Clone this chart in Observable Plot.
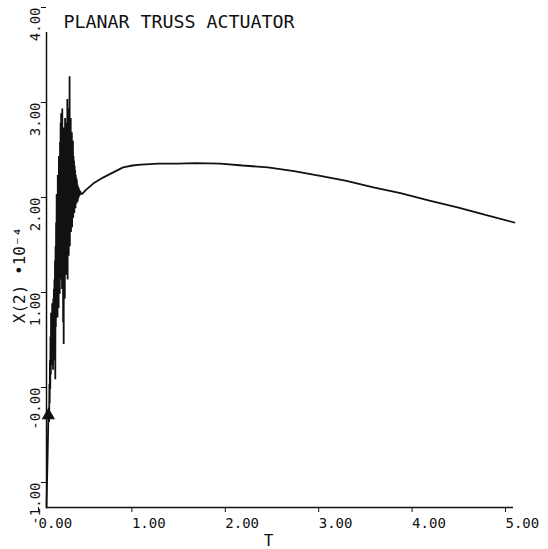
<!DOCTYPE html>
<html>
<head>
<meta charset="utf-8">
<script src="https://cdn.jsdelivr.net/npm/d3@7"></script>
<script src="https://cdn.jsdelivr.net/npm/@observablehq/plot@0.6"></script>
<style>
  html, body { margin: 0; padding: 0; background: #fff; }
</style>
</head>
<body>
<div id="chart"></div>
<script>
const titleText = ["PLANAR TRUSS ACTUATOR"];
const xLabelText = ["T"];
const yLabelText = ["X(2) •10⁻⁴"];

const xTicks = [0, 1, 2, 3, 4, 5];
const xTickLabels = ["0.00", "1.00", "2.00", "3.00", "4.00", "5.00"];
const yTicks = [-1, 0, 1, 2, 3, 4];
const yTickLabels = ["-1.00", "-0.00", "1.00", "2.00", "3.00", "4.00"];

// Early oscillating response
const tOsc = [0.000, 0.010, 0.020, 0.025, 0.028, 0.031, 0.034, 0.037, 0.040, 0.043, 0.046, 0.049, 0.052, 0.055, 0.058, 0.061, 0.064, 0.067, 0.070, 0.073, 0.076, 0.079, 0.082, 0.085, 0.088, 0.091, 0.094, 0.097, 0.100, 0.103, 0.106, 0.109, 0.112, 0.115, 0.118, 0.121, 0.124, 0.127, 0.130, 0.133, 0.136, 0.139, 0.142, 0.145, 0.148, 0.151, 0.154, 0.157, 0.160, 0.163, 0.166, 0.169, 0.172, 0.175, 0.178, 0.181, 0.184, 0.187, 0.190, 0.193, 0.196, 0.199, 0.202, 0.205, 0.208, 0.211, 0.214, 0.217, 0.220, 0.223, 0.226, 0.229, 0.232, 0.235, 0.238, 0.241, 0.244, 0.247, 0.250, 0.253, 0.256, 0.259, 0.262, 0.265, 0.268, 0.271, 0.274, 0.277, 0.280, 0.283, 0.286, 0.289, 0.292, 0.295, 0.298, 0.301, 0.304, 0.307, 0.310, 0.313, 0.316, 0.319, 0.322, 0.325, 0.328, 0.331, 0.334, 0.337, 0.340, 0.343, 0.346, 0.349, 0.352, 0.355, 0.358, 0.361, 0.364, 0.370, 0.380, 0.400];
const xOsc = [-1.00, -0.55, -0.05, 0.05, -0.10, 0.30, 0.10, 0.55, 0.25, 0.80, 0.40, 1.05, 0.55, 1.00, 0.50, 1.15, 0.60, 1.10, 0.45, 1.20, 0.70, 1.30, 0.55, 1.40, 0.75, 1.60, 0.35, 1.75, 0.90, 2.00, 1.05, 2.30, 1.20, 2.15, 1.00, 2.50, 1.35, 2.40, 1.10, 2.70, 1.50, 2.60, 1.25, 2.85, 1.70, 3.05, 1.40, 3.15, 1.80, 2.90, 1.30, 3.20, 1.60, 2.80, 0.95, 2.95, 0.72, 3.00, 1.50, 2.70, 1.20, 3.10, 1.70, 2.85, 1.45, 3.05, 1.90, 2.75, 1.55, 3.30, 1.40, 2.90, 1.85, 3.20, 1.65, 2.95, 2.00, 3.54, 1.75, 3.00, 2.10, 3.10, 1.90, 2.80, 2.15, 2.95, 1.95, 2.75, 2.20, 2.86, 2.05, 2.70, 2.25, 2.65, 2.10, 2.60, 2.30, 2.55, 2.15, 2.50, 2.25, 2.47, 2.20, 2.45, 2.28, 2.40, 2.22, 2.38, 2.25, 2.37, 2.27, 2.35, 2.28, 2.34, 2.29, 2.33, 2.30, 2.31, 2.30, 2.32];

// Smooth part of the response
const tSmooth = [0.42, 0.50, 0.60, 0.72, 0.82, 0.92, 1.01, 1.20, 1.40, 1.60, 1.86, 2.10, 2.37, 2.65, 2.93, 3.20, 3.50, 3.79, 4.10, 4.40, 4.70, 5.01];
const xSmooth = [2.34, 2.41, 2.47, 2.53, 2.58, 2.60, 2.61, 2.62, 2.62, 2.625, 2.62, 2.60, 2.58, 2.54, 2.49, 2.44, 2.37, 2.31, 2.23, 2.16, 2.08, 2.00];

// Plot symbol near the start
const markerT = [0.02];
const markerX = [-0.03];

const series = [
  ...tOsc.map((t, i) => ({t, v: xOsc[i]})),
  ...tSmooth.map((t, i) => ({t, v: xSmooth[i]}))
];
const markers = markerT.map((t, i) => ({t, v: markerX[i]}));

const ink = "#111";
const font = "DejaVu Sans Mono";

const chart = Plot.plot({
  width: 548,
  height: 549,
  marginLeft: 46,
  marginRight: 35,
  marginTop: 32,
  marginBottom: 42,
  style: {fontFamily: font, fontSize: "14px", color: ink, background: "#fff"},
  x: {domain: [0, 5]},
  y: {domain: [-1, 4]},
  marks: [
    Plot.ruleX([0], {y1: -1, y2: 4, stroke: ink, strokeWidth: 1.5}),
    Plot.ruleY([-1], {x1: 0, x2: 5, stroke: ink, strokeWidth: 1.5}),
    Plot.axisX({
      ticks: xTicks,
      tickFormat: d => xTickLabels[xTicks.indexOf(d)],
      tickSize: 5,
      tickPadding: 6,
      textAnchor: "start",
      dx: -8,
      stroke: ink,
      fill: ink,
      label: null
    }),
    Plot.axisY({
      ticks: yTicks,
      tickFormat: d => yTickLabels[yTicks.indexOf(d)],
      tickSize: 5,
      tickPadding: 2,
      tickRotate: -90,
      textAnchor: "end",
      dy: -25,
      stroke: ink,
      fill: ink,
      label: null
    }),
    Plot.line(series, {x: "t", y: "v", stroke: ink, strokeWidth: 1.8, strokeLinejoin: "miter"}),
    Plot.dot(markers, {x: "t", y: "v", symbol: "triangle", r: 4, fill: ink, stroke: ink}),
    Plot.text(titleText, {
      text: d => d, frameAnchor: "top-left", dx: 17, dy: -5,
      textAnchor: "start", lineAnchor: "bottom", fontSize: 18.3, fill: ink
    }),
    Plot.text(xLabelText, {
      text: d => d, frameAnchor: "bottom-left", dx: 222, dy: 38,
      textAnchor: "middle", lineAnchor: "bottom", fontSize: 16, fill: ink
    }),
    Plot.text(yLabelText, {
      text: d => d, frameAnchor: "left", dx: -27, dy: 5,
      rotate: -90, textAnchor: "middle", lineAnchor: "middle", fontSize: 16, fill: ink
    })
  ]
});
document.getElementById("chart").appendChild(chart);
</script>
</body>
</html>
